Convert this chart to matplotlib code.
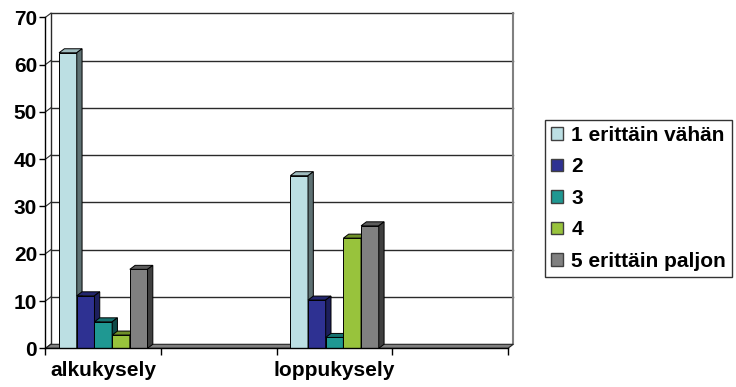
import numpy as np
import matplotlib.pyplot as plt
from matplotlib.patches import Polygon, Patch

plt.rcParams['font.family'] = ['Liberation Sans', 'DejaVu Sans']
plt.rcParams['font.weight'] = 'bold'

# survey answers (%), first and second round
categories = ['alkukysely', '', 'loppukysely', '']
series = ['1 erittäin vähän', '2', '3', '4', '5 erittäin paljon']
alku = [62.5, 11.1, 5.6, 2.8, 16.7]
loppu = [36.5, 10.2, 2.3, 23.3, 25.9]

fronts = ['#bcdfe3', '#2e3192', '#1f9892', '#98c33c', '#808080']
tops = ['#9fbcbf', '#23266e', '#167270', '#6f9029', '#5c5c5c']
sides = ['#5e7173', '#1d1f5c', '#0f4a48', '#4c611d', '#3f3f3f']

fig = plt.figure(figsize=(7.36, 3.87), dpi=100)
ax = fig.add_axes([0.0618, 0.1, 0.6284, 0.8553])
ax.set_xlim(0, 4)
ax.set_ylim(0, 70)

# depth offset of the 3D look, px -> data units
px_x = 0.6284 * 736 / 4
px_y = 0.8553 * 387 / 70
dx = 5.3 / px_x
dy = 4.0 / px_y

# back wall, side wall and floor
grid_c = '#2a2a2a'
for v in range(10, 80, 10):
    ax.plot([dx, 4 + dx], [v + dy, v + dy], color=grid_c, lw=1, clip_on=False, zorder=1)
for v in range(0, 80, 10):
    ax.plot([0, dx], [v, v + dy], color=grid_c, lw=0.8, clip_on=False, zorder=1)
ax.plot([dx, dx], [dy, 70 + dy], color=grid_c, lw=1, clip_on=False, zorder=1)
ax.plot([4 + dx, 4 + dx], [dy, 70 + dy], color='#808080', lw=1.5, clip_on=False, zorder=1)
floor = Polygon([[0, 0], [4, 0], [4 + dx, dy], [dx, dy]], closed=True,
                facecolor='#808080', edgecolor='#222222', lw=0.8, clip_on=False, zorder=2)
ax.add_patch(floor)

# clustered 3D columns
x = np.arange(len(categories)) + 0.5
w = 0.153
values = np.array([alku, [0] * 5, loppu, [0] * 5])
z = 3
for g in range(len(categories)):
    if values[g].sum() == 0:
        continue
    for k in range(len(series)):
        x0 = x[g] + (k - 2.5) * w
        h = values[g][k]
        ax.bar(x0, h, width=w, align='edge', color=fronts[k], edgecolor='black',
               lw=0.7, zorder=z)
        ax.add_patch(Polygon([[x0, h], [x0 + w, h], [x0 + w + dx, h + dy], [x0 + dx, h + dy]],
                             closed=True, facecolor=tops[k], edgecolor='black', lw=0.7,
                             zorder=z, clip_on=False))
        ax.add_patch(Polygon([[x0 + w, 0], [x0 + w + dx, dy], [x0 + w + dx, h + dy], [x0 + w, h]],
                             closed=True, facecolor=sides[k], edgecolor='black', lw=0.7,
                             zorder=z, clip_on=False))
        z += 1

for s in ['top', 'right']:
    ax.spines[s].set_visible(False)
ax.spines['left'].set_linewidth(1)
ax.spines['bottom'].set_linewidth(1)
ax.spines['left'].set_zorder(50)
ax.spines['bottom'].set_zorder(50)

fs = 15
ax.set_yticks(range(0, 80, 10))
ax.tick_params(axis='y', length=4, width=1, labelsize=fs, pad=2)
ax.set_xticks(range(0, 5))
ax.set_xticklabels([])
ax.set_xticks(x, minor=True)
ax.set_xticklabels(categories, minor=True)
ax.tick_params(axis='x', which='major', length=5, width=1)
ax.tick_params(axis='x', which='minor', length=0, labelsize=fs, pad=9)
for t in ax.get_yticklabels() + ax.get_xticklabels(minor=True):
    t.set_fontweight('bold')

handles = [Patch(facecolor=fronts[k], edgecolor='#404040', lw=1) for k in range(len(series))]
leg = fig.legend(handles, series, loc='upper left', bbox_to_anchor=(545 / 736, 1 - 120 / 387),
                 frameon=True, fancybox=False, shadow=False, borderaxespad=0,
                 prop={'size': fs, 'weight': 'bold'}, handlelength=0.58, handleheight=0.58,
                 handletextpad=0.4, labelspacing=0.6, borderpad=0.28)
leg.get_frame().set_edgecolor('black')
leg.get_frame().set_linewidth(1)

fig.savefig('out.png', dpi=100)
